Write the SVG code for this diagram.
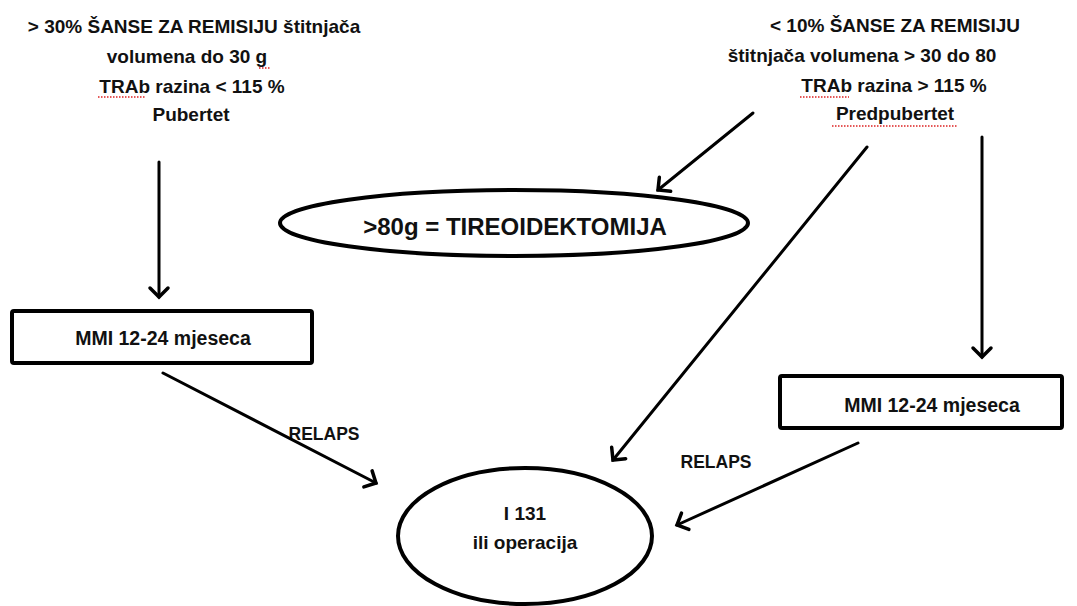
<svg xmlns="http://www.w3.org/2000/svg" width="1077" height="606" viewBox="0 0 1077 606">
<style>
  text { font-family: "Liberation Sans", Arial, sans-serif; font-weight: bold; fill: #111; text-anchor: middle; }
  .h { font-size: 19px; }
  .box { fill: #fff; stroke: #000; stroke-width: 4; }
  .ell { fill: #fff; stroke: #000; stroke-width: 4; }
  .conn line { stroke: #000; stroke-width: 3; stroke-linecap: round; }
  .squig { stroke: #d22; stroke-width: 1.4; stroke-dasharray: 1.5 1.5; fill: none; }
</style>
<defs>
  <marker id="arr" viewBox="0 0 24 24" refX="12" refY="12" markerWidth="24" markerHeight="24" markerUnits="userSpaceOnUse" orient="auto">
    <path d="M3,3 L12,12 L3,21" fill="none" stroke="#000" stroke-width="3.5" stroke-linecap="round" stroke-linejoin="miter"/>
  </marker>
</defs>
<rect width="1077" height="606" fill="#fff"/>

<g id="left-criteria">
  <text class="h" x="194" y="33">&gt; 30% ŠANSE ZA REMISIJU štitnjača</text>
  <text class="h" x="187" y="63">volumena do 30 g</text>
  <text class="h" x="192" y="93">TRAb razina &lt; 115 %</text>
  <text class="h" x="191" y="121">Pubertet</text>
  <path class="squig" d="M259,68 L270,68 M98,97 L146,97"/>
</g>

<g id="right-criteria">
  <text class="h" x="895" y="32">&lt; 10% ŠANSE ZA REMISIJU</text>
  <text class="h" x="862" y="62">štitnjača volumena &gt; 30 do 80</text>
  <text class="h" x="894" y="92">TRAb razina &gt; 115 %</text>
  <text class="h" x="895" y="120">Predpubertet</text>
  <path class="squig" d="M800,97 L849,97 M832,126 L958,126"/>
</g>

<g id="tireoidektomija">
  <ellipse class="ell" cx="514" cy="223" rx="234" ry="33"/>
  <text x="515" y="235" style="font-size:24px">&gt;80g = TIREOIDEKTOMIJA</text>
</g>

<g id="mmi-left">
  <rect class="box" x="12" y="311" width="300" height="52" rx="2"/>
  <text x="163" y="345" style="font-size:19.5px">MMI 12-24 mjeseca</text>
</g>

<g id="mmi-right">
  <rect class="box" x="780" y="376" width="282" height="52" rx="2"/>
  <text x="932" y="412" style="font-size:19.5px">MMI 12-24 mjeseca</text>
</g>

<g id="i131">
  <ellipse class="ell" cx="525" cy="536" rx="127" ry="68"/>
  <text x="525" y="520" style="font-size:19px">I 131</text>
  <text x="525" y="549" style="font-size:19px">ili operacija</text>
</g>

<g id="labels">
  <text x="324" y="440" style="font-size:17.5px">RELAPS</text>
  <text x="716" y="468" style="font-size:17.5px">RELAPS</text>
</g>

<g class="conn" id="connectors">
  <line x1="159" y1="162" x2="159" y2="297" marker-end="url(#arr)"/>
  <line x1="753" y1="113" x2="658" y2="190" marker-end="url(#arr)"/>
  <line x1="867" y1="147" x2="613" y2="460" marker-end="url(#arr)"/>
  <line x1="982" y1="137" x2="982" y2="357" marker-end="url(#arr)"/>
  <line x1="163" y1="373" x2="376" y2="483" marker-end="url(#arr)"/>
  <line x1="858" y1="443" x2="677" y2="525" marker-end="url(#arr)"/>
</g>
</svg>
